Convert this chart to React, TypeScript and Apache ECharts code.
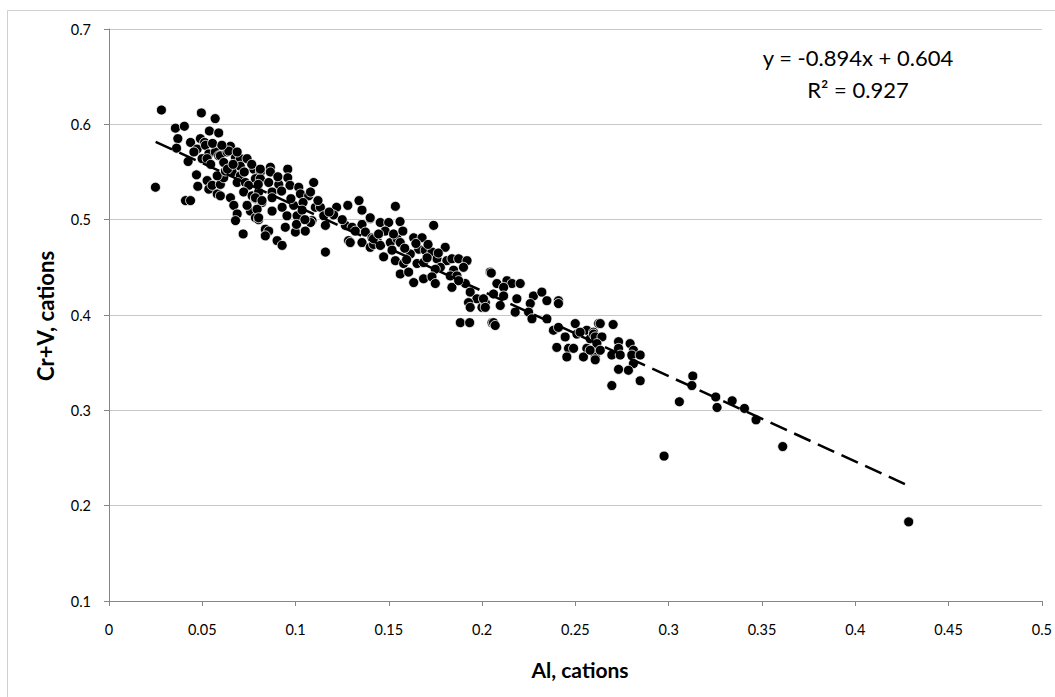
import React, { useEffect, useRef } from "react";
import * as echarts from "echarts";

// Al vs Cr+V (cations)
const clusterHigh: number[][] = [
  [0.0249, 0.534], [0.0281, 0.615], [0.0356, 0.596], [0.0404, 0.598], [0.0369, 0.585], [0.0362, 0.575],
  [0.0437, 0.581], [0.0495, 0.612], [0.0569, 0.606], [0.0538, 0.593], [0.0588, 0.591], [0.049, 0.585],
  [0.0512, 0.581], [0.0472, 0.574], [0.0517, 0.578], [0.0535, 0.569], [0.057, 0.571], [0.0588, 0.567],
  [0.0424, 0.561], [0.0499, 0.564], [0.0526, 0.564], [0.0597, 0.567], [0.0633, 0.571], [0.0651, 0.577],
  [0.0642, 0.572], [0.0678, 0.565], [0.0704, 0.564], [0.0687, 0.571], [0.0469, 0.547], [0.0476, 0.535],
  [0.0526, 0.541], [0.0535, 0.532], [0.041, 0.52], [0.0437, 0.52], [0.058, 0.527], [0.0597, 0.525],
  [0.0553, 0.536], [0.0597, 0.537], [0.0615, 0.544], [0.058, 0.546], [0.0624, 0.551], [0.0651, 0.523],
  [0.0669, 0.515], [0.0687, 0.506], [0.0678, 0.499], [0.0719, 0.485], [0.0704, 0.556], [0.074, 0.564],
  [0.0776, 0.553], [0.0811, 0.55], [0.066, 0.55], [0.0704, 0.546], [0.0687, 0.539], [0.0731, 0.539],
  [0.0749, 0.536], [0.0785, 0.543], [0.0811, 0.543], [0.0722, 0.529], [0.0767, 0.525], [0.0802, 0.529],
  [0.0785, 0.522], [0.082, 0.518], [0.0758, 0.509], [0.0785, 0.502], [0.0802, 0.5], [0.0838, 0.483],
  [0.0794, 0.511], [0.074, 0.515], [0.0455, 0.571], [0.0545, 0.558], [0.0615, 0.56], [0.0635, 0.553],
  [0.0555, 0.58], [0.0605, 0.578], [0.0665, 0.558], [0.0725, 0.55], [0.0765, 0.558],
];

const clusterUpperMid: number[][] = [
  [0.0811, 0.553], [0.0865, 0.555], [0.0865, 0.55], [0.0958, 0.553], [0.0958, 0.544], [0.08, 0.537],
  [0.0856, 0.539], [0.091, 0.537], [0.097, 0.536], [0.1017, 0.534], [0.1097, 0.539], [0.0874, 0.529],
  [0.0874, 0.523], [0.1026, 0.527], [0.107, 0.525], [0.108, 0.529], [0.0785, 0.523], [0.082, 0.52],
  [0.0928, 0.513], [0.099, 0.515], [0.1106, 0.513], [0.1133, 0.513], [0.122, 0.513], [0.128, 0.515],
  [0.134, 0.52], [0.1356, 0.51], [0.0874, 0.509], [0.0954, 0.504], [0.1008, 0.504], [0.0802, 0.502],
  [0.1204, 0.505], [0.1151, 0.504], [0.1088, 0.499], [0.108, 0.497], [0.116, 0.494], [0.0945, 0.492],
  [0.0999, 0.487], [0.1052, 0.488], [0.0838, 0.49], [0.0856, 0.488], [0.0838, 0.483], [0.0901, 0.478],
  [0.0928, 0.473], [0.116, 0.466], [0.1267, 0.494], [0.1303, 0.492], [0.1356, 0.495], [0.14, 0.501],
  [0.132, 0.488], [0.1374, 0.487], [0.141, 0.481], [0.1284, 0.478], [0.1293, 0.476], [0.1356, 0.476],
  [0.14, 0.471], [0.1437, 0.478], [0.1418, 0.474], [0.0925, 0.53], [0.0975, 0.522], [0.104, 0.518],
  [0.112, 0.52], [0.0905, 0.545], [0.1035, 0.51], [0.118, 0.508], [0.125, 0.5], [0.1005, 0.495], [0.105, 0.5],
];

const clusterLowerMid: number[][] = [
  [0.1535, 0.514], [0.156, 0.498], [0.174, 0.494], [0.14, 0.502], [0.1454, 0.497], [0.1499, 0.497],
  [0.148, 0.488], [0.1418, 0.48], [0.1454, 0.473], [0.1508, 0.476], [0.1544, 0.48], [0.1561, 0.476],
  [0.1633, 0.481], [0.1678, 0.481], [0.166, 0.469], [0.1695, 0.468], [0.1615, 0.464], [0.1731, 0.466],
  [0.1802, 0.471], [0.1472, 0.461], [0.1517, 0.468], [0.1535, 0.457], [0.1579, 0.454], [0.1651, 0.454],
  [0.1686, 0.455], [0.1758, 0.459], [0.1811, 0.457], [0.1838, 0.459], [0.1874, 0.459], [0.1919, 0.457],
  [0.19, 0.45], [0.1776, 0.45], [0.1749, 0.448], [0.1847, 0.447], [0.1561, 0.443], [0.1606, 0.445],
  [0.1686, 0.438], [0.1731, 0.44], [0.1749, 0.433], [0.1633, 0.434], [0.1829, 0.441], [0.1865, 0.441],
  [0.1838, 0.429], [0.191, 0.433], [0.1874, 0.436], [0.2043, 0.445], [0.1936, 0.424], [0.1972, 0.417],
  [0.1927, 0.413], [0.1936, 0.408], [0.1999, 0.408], [0.2017, 0.413], [0.1883, 0.392], [0.1933, 0.392],
  [0.2053, 0.392], [0.1585, 0.47], [0.1645, 0.475], [0.171, 0.474], [0.1765, 0.465], [0.1595, 0.458],
  [0.1705, 0.46], [0.1525, 0.485], [0.1575, 0.488], [0.1445, 0.485],
];

const clusterLow: number[][] = [
  [0.2049, 0.444], [0.2079, 0.433], [0.2133, 0.436], [0.216, 0.433], [0.2204, 0.433], [0.2115, 0.429],
  [0.2061, 0.422], [0.2115, 0.42], [0.2097, 0.41], [0.2007, 0.417], [0.2017, 0.408], [0.2186, 0.417],
  [0.2177, 0.403], [0.2061, 0.392], [0.207, 0.389], [0.2275, 0.42], [0.232, 0.424], [0.2258, 0.412],
  [0.2249, 0.403], [0.2267, 0.396], [0.2347, 0.415], [0.2409, 0.415], [0.2409, 0.412], [0.2347, 0.396],
  [0.2382, 0.384], [0.2409, 0.387], [0.2445, 0.377], [0.2499, 0.391], [0.2508, 0.38], [0.2561, 0.384],
  [0.2525, 0.382], [0.2597, 0.382], [0.2624, 0.391], [0.2579, 0.375], [0.24, 0.366], [0.2463, 0.365],
  [0.249, 0.365], [0.2561, 0.365], [0.2615, 0.366], [0.2454, 0.356], [0.2543, 0.356], [0.2606, 0.356],
  [0.2633, 0.391], [0.2702, 0.39], [0.2597, 0.38], [0.2606, 0.377], [0.2642, 0.377], [0.2615, 0.37],
  [0.2579, 0.363], [0.2633, 0.363], [0.2606, 0.353], [0.2695, 0.358], [0.2731, 0.372], [0.2731, 0.365],
  [0.274, 0.358], [0.2793, 0.37], [0.2811, 0.363], [0.2802, 0.358], [0.2847, 0.358], [0.2811, 0.349],
  [0.2784, 0.342], [0.2731, 0.343], [0.2847, 0.331], [0.2695, 0.326],
];

const sparseTail: number[][] = [
  [0.2975, 0.252], [0.3057, 0.309], [0.3129, 0.336], [0.3124, 0.326], [0.3252, 0.314], [0.3259, 0.303],
  [0.334, 0.31], [0.3406, 0.302], [0.3468, 0.29], [0.3611, 0.262], [0.4286, 0.183],
];

// Linear trend line as printed on the chart
const trendSlope = -0.894;
const trendIntercept = 0.604;
const trendXRange = [0.025, 0.4266];
const equationLines = ["y = -0.894x + 0.604", "R² = 0.927"];

const xTitle = "Al, cations";
const yTitle = "Cr+V, cations";

const FONT = "Lato, 'Open Sans', sans-serif";

export default function App() {
  const ref = useRef<HTMLDivElement>(null);

  useEffect(() => {
    document.body.style.margin = "0";
    const chart = echarts.init(ref.current!, null, { renderer: "svg" });
    const points = [
      ...clusterHigh,
      ...clusterUpperMid,
      ...clusterLowerMid,
      ...clusterLow,
      ...sparseTail,
    ];
    const trend = trendXRange.map((x) => [x, trendSlope * x + trendIntercept]);

    chart.setOption({
      animation: false,
      backgroundColor: "#ffffff",
      textStyle: { fontFamily: FONT },
      grid: { left: 109, right: 13, top: 29, bottom: 96 },
      xAxis: {
        type: "value",
        min: 0,
        max: 0.5,
        interval: 0.05,
        axisLine: { show: true, lineStyle: { color: "#868686", width: 1 } },
        axisTick: { show: true, inside: false, length: 5, lineStyle: { color: "#868686" } },
        splitLine: { show: false },
        axisLabel: {
          margin: 21,
          fontSize: 14.5,
          color: "#000000",
          fontFamily: FONT,
          formatter: (v: number) => String(+v.toFixed(2)),
        },
      },
      yAxis: {
        type: "value",
        min: 0.1,
        max: 0.7,
        interval: 0.1,
        axisLine: { show: true, lineStyle: { color: "#868686", width: 1 } },
        axisTick: { show: true, inside: false, length: 5, lineStyle: { color: "#868686" } },
        splitLine: { show: true, lineStyle: { color: "#c8c8c8", width: 1 } },
        axisLabel: {
          margin: 18,
          fontSize: 14.5,
          color: "#000000",
          fontFamily: FONT,
          formatter: (v: number) => String(+v.toFixed(1)),
        },
      },
      graphic: [
        {
          type: "rect",
          shape: { x: 7.5, y: 10.5, width: 1200, height: 900 },
          style: { fill: "none", stroke: "#d0d0d0", lineWidth: 1 },
          silent: true,
          z: -1,
        },
        {
          type: "text",
          x: 580,
          y: 669,
          style: {
            text: xTitle,
            font: `bold 21px ${FONT}`,
            fill: "#000000",
            align: "center",
            verticalAlign: "middle",
          },
        },
        {
          type: "text",
          x: 45,
          y: 316,
          rotation: Math.PI / 2,
          style: {
            text: yTitle,
            font: `bold 22px ${FONT}`,
            fill: "#000000",
            align: "center",
            verticalAlign: "middle",
          },
        },
        {
          type: "text",
          x: 858,
          y: 57,
          style: {
            text: equationLines[0],
            font: `22px ${FONT}`,
            fill: "#000000",
            align: "center",
            verticalAlign: "middle",
          },
        },
        {
          type: "text",
          x: 858,
          y: 89,
          style: {
            text: equationLines[1],
            font: `22px ${FONT}`,
            fill: "#000000",
            align: "center",
            verticalAlign: "middle",
          },
        },
      ],
      series: [
        {
          type: "scatter",
          data: points,
          symbol: "circle",
          symbolSize: 10,
          itemStyle: { color: "#000000", borderColor: "#ffffff", borderWidth: 0.8, opacity: 1 },
          z: 2,
        },
        {
          type: "line",
          data: trend,
          symbol: "none",
          lineStyle: { color: "#000000", width: 2.5, type: [18, 8] },
          z: 3,
        },
      ],
    });
    return () => chart.dispose();
  }, []);

  return <div ref={ref} style={{ width: 1055, height: 697 }} />;
}
